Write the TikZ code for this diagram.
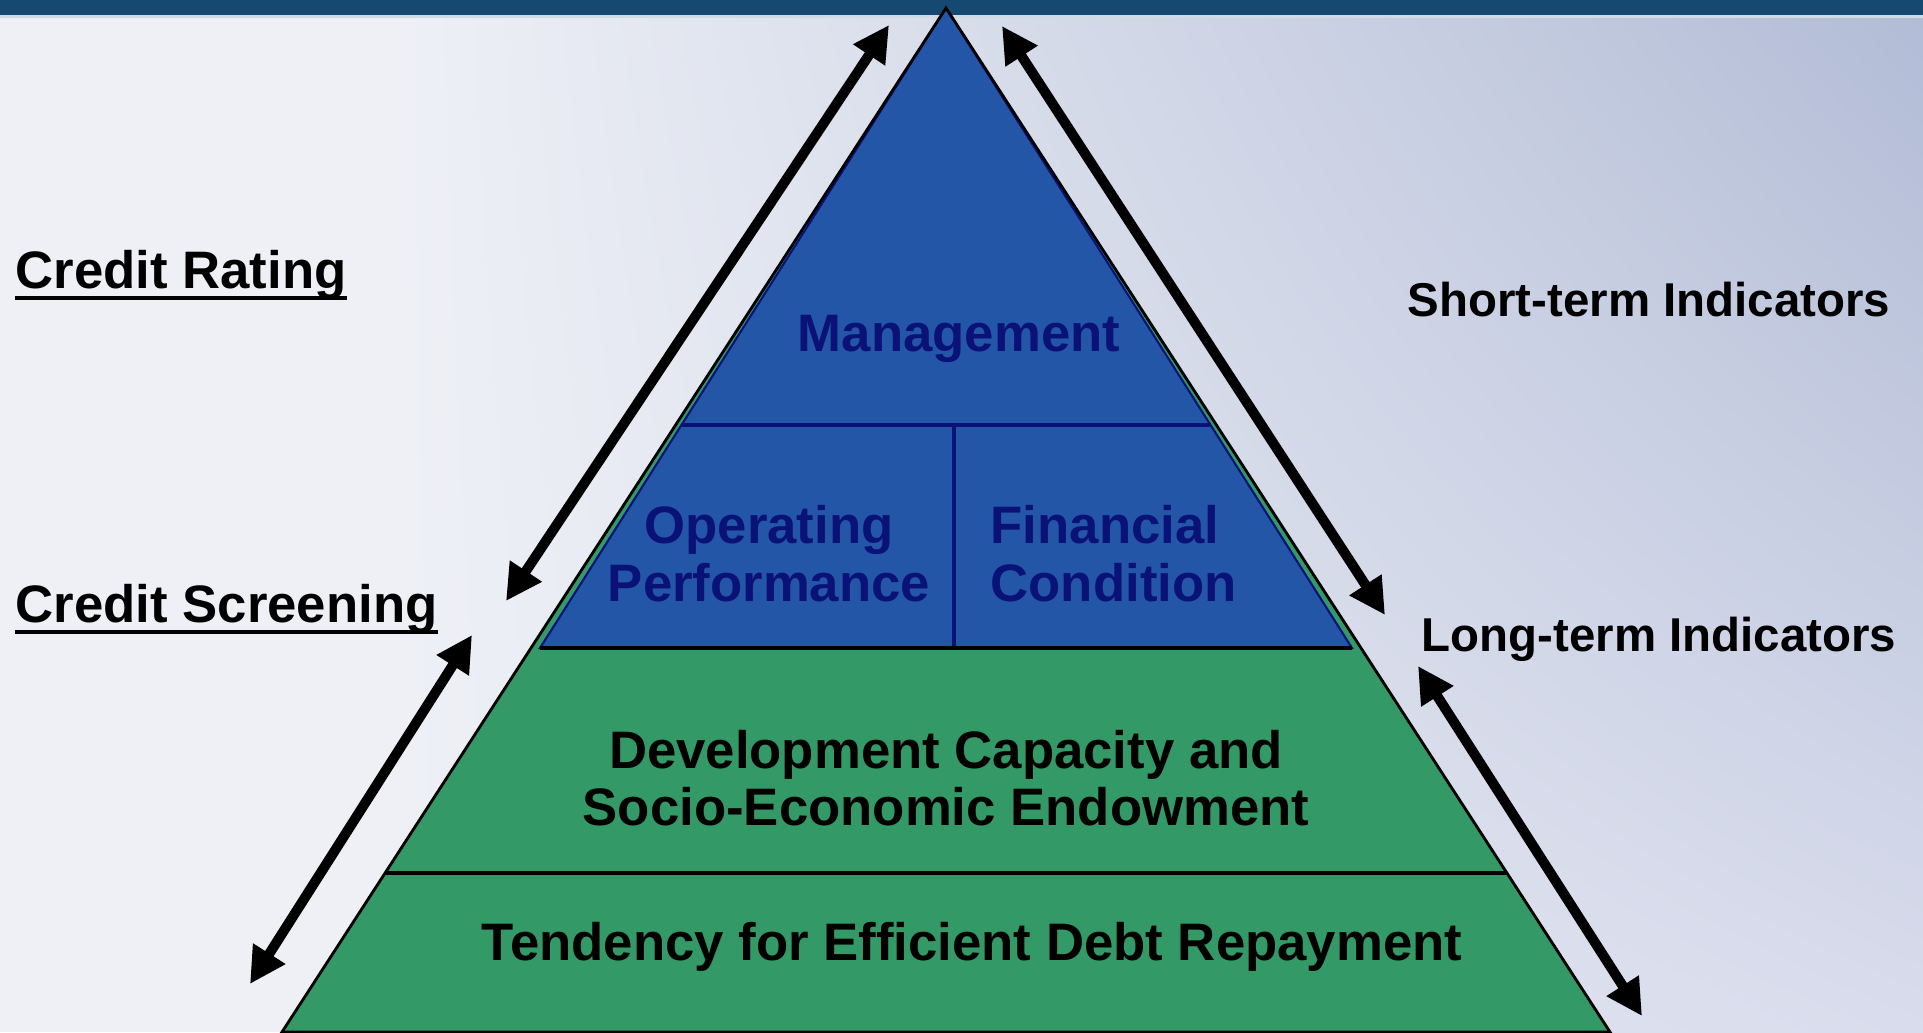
\documentclass[tikz,border=0pt]{standalone}
\usepackage{fontspec}
\setmainfont{Liberation Sans}
\usetikzlibrary{positioning, arrows.meta, shadings}
\definecolor{barblue}{RGB}{22, 73, 113}
\definecolor{paper}{RGB}{238, 240, 246}
\definecolor{papertop}{RGB}{178, 188, 214}
\definecolor{paperlow}{RGB}{216, 220, 236}
\definecolor{pyrgreen}{RGB}{51, 153, 102}
\definecolor{pyrblue}{RGB}{36, 86, 168}
\definecolor{navy}{RGB}{10, 18, 120}

\begin{document}
\begin{tikzpicture}[
        tier/.style={font=\fontsize{15}{16.4}\selectfont\bfseries, inner sep=0pt, align=center},
        sidetext/.style={font=\fontsize{15}{16.4}\selectfont\bfseries, inner sep=0pt, anchor=base west},
        indtext/.style={font=\fontsize{13.5}{15}\selectfont\bfseries, inner sep=0pt, anchor=base west},
        twoway/.style={{Triangle[length=3.6mm, width=3.6mm]}-{Triangle[length=3.6mm, width=3.6mm]},
            line width=1mm, black},
        divider/.style={line width=0.9pt}
    ]
    \useasboundingbox (0,0) rectangle (19.23,10.32);

    % backdrop and title bar
    \fill[paper] (0,0) rectangle (19.23,10.32);
    \shade[shading=bilinear interpolation, upper left=paper, lower left=paper,
        upper right=papertop, lower right=paperlow]
        (4,0) rectangle (19.23,10.17);
    \fill[white!80!barblue] (0,10.14) rectangle (19.23,10.17);
    \fill[barblue] (0,10.17) rectangle (19.23,10.32);

    % pyramid
    \coordinate (apex) at (9.46,10.24);
    \coordinate (baseL) at (2.82,0);
    \coordinate (baseR) at (16.10,0);
    \fill[pyrgreen] (apex) -- (baseL) -- (baseR) -- cycle;
    \filldraw[fill=pyrblue, draw=navy, line width=0.6pt] (apex) -- (5.40,3.84) -- (13.52,3.84) -- cycle;
    \draw[navy, divider] (6.815,6.07) -- (12.105,6.07);
    \draw[navy, divider] (9.54,6.07) -- (9.54,3.84);
    \draw[black, line width=1.1pt] (5.40,3.84) -- (13.52,3.84);
    \draw[black, divider] (3.85,1.59) -- (15.07,1.59);
    \draw[black, line width=0.8pt] (apex) -- (baseL) -- (baseR) -- cycle;

    % tiers
    \node[tier, text=navy] (mgmt) at (9.59,6.93) {Management};
    \node[tier, text=navy] (operating) at (7.69,4.785) {Operating\\Performance};
    \node[tier, text=navy, align=left, anchor=west] (financial) at (9.90,4.785) {Financial\\Condition};
    \node[tier] (capacity) at (9.46,2.54) {Development Capacity and\\Socio-Economic Endowment};
    \node[tier] (repay) at (9.72,0.85) {Tendency for Efficient Debt Repayment};

    % left labels
    \node[sidetext] (rating) at (0.15,7.44) {Credit Rating};
    \node[sidetext] (screening) at (0.15,4.10) {Credit Screening};
    \draw[line width=1.1pt] ([yshift=-1mm]rating.base west) -- ([yshift=-1mm]rating.base east);
    \draw[line width=1.1pt] ([yshift=-1mm]screening.base west) -- ([yshift=-1mm]screening.base east);

    % right labels
    \node[indtext] (shortterm) at (14.07,7.16) {Short-term Indicators};
    \node[indtext] (longterm) at (14.21,3.81) {Long-term Indicators};

    % arrows along the sides
    \coordinate (ltTop) at (8.89,10.07);
    \coordinate (ltBot) at (5.06,4.31);
    \coordinate (lbTop) at (4.72,3.97);
    \coordinate (lbBot) at (2.50,0.48);
    \coordinate (rtTop) at (10.02,10.06);
    \coordinate (rtBot) at (13.85,4.17);
    \coordinate (rbTop) at (14.18,3.66);
    \coordinate (rbBot) at (16.42,0.16);
    \draw[twoway] (ltTop) -- (ltBot);
    \draw[twoway] (lbTop) -- (lbBot);
    \draw[twoway] (rtTop) -- (rtBot);
    \draw[twoway] (rbTop) -- (rbBot);
\end{tikzpicture}
\end{document}
